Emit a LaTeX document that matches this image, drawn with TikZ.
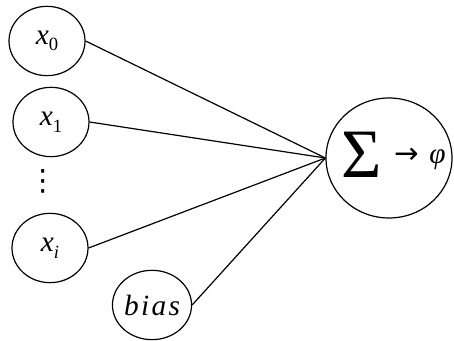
\documentclass[tikz,border=0pt]{standalone}
\usepackage{fontspec}
\setmainfont{Liberation Serif}[ItalicFont={Liberation Serif Italic}]
\newfontfamily\symfont{DejaVu Sans}
\usetikzlibrary{shapes.geometric}

\tikzset{every picture/.style={line width=0.9pt}}
\tikzset{
  unit/.style={draw, ellipse, inner sep=0pt, minimum width=57pt, minimum height=52pt,
    font=\fontsize{22}{22}\selectfont\itshape},
  sumunit/.style={draw, ellipse, inner sep=0pt, minimum width=94.5pt, minimum height=90pt},
}
\newcommand{\xsub}[1]{x\raisebox{-5pt}{\fontsize{14}{14}\selectfont #1}}

\begin{document}
\begin{tikzpicture}[x=0.75pt,y=0.75pt,yscale=-1,xscale=1]
  \useasboundingbox (0,0) rectangle (454,341);

  %Inputs
  \node [unit] (x0) at (47,41) {\xsub{\upshape 0}};
  \node [unit] (x1) at (51,122) {\xsub{\upshape 1}};
  \node [inner sep=0pt, font=\fontsize{22}{22}\selectfont\symfont] (dots) at (43,181) {⋮};
  \node [unit] (xi) at (50,248) {\xsub{i}};
  \node [unit] (bias) at (152,305) {\addfontfeature{LetterSpace=8}bias};

  %Summation
  \node [sumunit] (sum) at (389,158) {\makebox[0pt]{\smash{\raisebox{-15pt}{\hspace{7pt}{\fontsize{52}{52}\selectfont Σ}\hspace{9pt}\raisebox{11pt}{\fontsize{22}{22}\selectfont\symfont →}\hspace{8pt}\raisebox{11pt}{\fontsize{22}{22}\selectfont\itshape φ}}}}};

  \draw (x0.east) -- (sum.west);
  \draw (x1.east) -- (sum.west);
  \draw (xi.east) -- (sum.west);
  \draw (bias.east) -- (sum.west);
\end{tikzpicture}
\end{document}
